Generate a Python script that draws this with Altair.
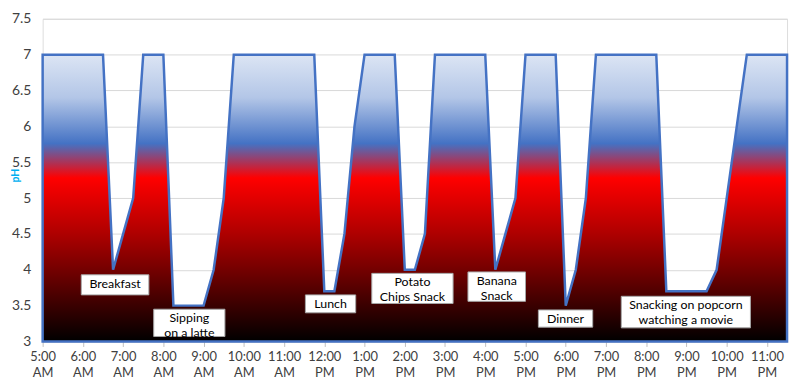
import altair as alt
import pandas as pd

# pH readings through the day (hour of day, 24h clock)
hours = [5, 6.5, 6.75, 7, 7.25, 7.5, 8, 8.25, 9, 9.25, 9.5, 9.75, 11.75, 12, 12.25,
         12.5, 12.75, 13, 13.75, 14, 14.25, 14.5, 14.75, 16, 16.25, 16.5, 16.75, 17,
         17.75, 18, 18.25, 18.5, 18.75, 20.25, 20.5, 21.5, 21.75, 22, 22.25, 22.5, 23.5]
ph = [7, 7, 4, 4.5, 5, 7, 7, 3.5, 3.5, 4, 5, 7, 7, 3.7, 3.7,
      4.5, 6, 7, 7, 4, 4, 4.5, 7, 7, 4, 4.5, 5, 7,
      7, 3.5, 4, 5, 7, 7, 3.7, 3.7, 4, 5, 6, 7, 7]

# annotation labels and their boxes (data units)
labels = ["Breakfast", "Sipping\non a latte", "Lunch", "Potato\nChips Snack",
          "Banana\nSnack", "Dinner", "Snacking on popcorn\nwatching a movie"]
box_left = [5.96, 7.76, 11.53, 13.18, 15.57, 17.32, 19.38]
box_right = [7.64, 9.53, 12.78, 15.20, 17.00, 18.67, 22.59]
box_bottom = [3.65, 3.07, 3.40, 3.53, 3.56, 3.20, 3.19]
box_top = [3.93, 3.45, 3.65, 3.95, 3.97, 3.44, 3.63]

x_ticks = list(range(5, 24))
y_ticks = [3, 3.5, 4, 4.5, 5, 5.5, 6, 6.5, 7, 7.5]

df = pd.DataFrame({"hour": hours, "ph": ph})
ann = pd.DataFrame({
    "label": labels,
    "x1": box_left, "x2": box_right, "y1": box_bottom, "y2": box_top,
})
ann["xc"] = (ann["x1"] + ann["x2"]) / 2

FONT = "Lato"

xscale = alt.Scale(domain=[5, 23.5], nice=False, zero=False)
yscale = alt.Scale(domain=[3, 7.5], nice=False, zero=False)

xaxis = alt.Axis(
    values=x_ticks, title=None, grid=False, domain=False,
    ticks=True, tickColor="#bfbfbf", tickSize=5,
    labelExpr="[(datum.value % 12 == 0 ? 12 : datum.value % 12) + ':00', datum.value < 12 ? 'AM' : 'PM']",
    labelFontSize=13, labelColor="#404040", labelFont=FONT, labelPadding=4,
    labelLineHeight=16, labelBaseline="top", labelFlush=False, labelOverlap=False,
)
yaxis = alt.Axis(
    values=y_ticks, format=".2~f", title="pH", titleColor="#00b0f0",
    titleFontSize=10.5, titleFontWeight="bold", titleFont=FONT,
    titleX=-22, titleY=158, titleAngle=270, titleAlign="center",
    grid=True, gridColor="#d9d9d9", gridWidth=1, domain=False, ticks=False,
    labelFontSize=14, labelColor="#404040", labelFont=FONT, labelPadding=12,
    labelOverlap=False, labelFlush=False,
)

gradient = alt.Gradient(
    gradient="linear",
    x1=0, x2=0, y1=0, y2=1,
    stops=[
        alt.GradientStop(offset=0, color="#dce5f4"),
        alt.GradientStop(offset=0.15, color="#b3c6e7"),
        alt.GradientStop(offset=0.31, color="#4472c4"),
        alt.GradientStop(offset=0.43, color="#ff0000"),
        alt.GradientStop(offset=0.62, color="#b00000"),
        alt.GradientStop(offset=1, color="#000000"),
    ],
)

area = alt.Chart(df).mark_area(
    fill=gradient, stroke="#4472c4", strokeWidth=2.5, interpolate="linear",
    strokeJoin="miter"
).encode(
    x=alt.X("hour:Q", scale=xscale, axis=xaxis),
    y=alt.Y("ph:Q", scale=yscale, axis=yaxis),
    y2=alt.datum(3),
)

boxes = alt.Chart(ann).mark_rect(fill="white", stroke="#a6a6a6", strokeWidth=1).encode(
    x=alt.X("x1:Q", scale=xscale, axis=xaxis), x2="x2:Q",
    y=alt.Y("y1:Q", scale=yscale, axis=yaxis), y2="y2:Q",
)

texts = alt.Chart(ann).mark_text(
    font=FONT, fontSize=12.5, color="#000000", lineBreak="\n", lineHeight=15,
    align="center", baseline="top", dy=3
).encode(
    x=alt.X("xc:Q", scale=xscale, axis=xaxis),
    y=alt.Y("y2:Q", scale=yscale, axis=yaxis),
    text="label:N",
)

chart = alt.layer(area, boxes, texts).properties(
    width=752, height=326,
    autosize=alt.AutoSizeParams(type="none"),
    padding={"left": 35, "top": 9, "right": 5, "bottom": 36},
).configure_view(stroke=None).configure(background="white")

chart.save("out.html", embed_options={"renderer": "svg", "actions": False})
